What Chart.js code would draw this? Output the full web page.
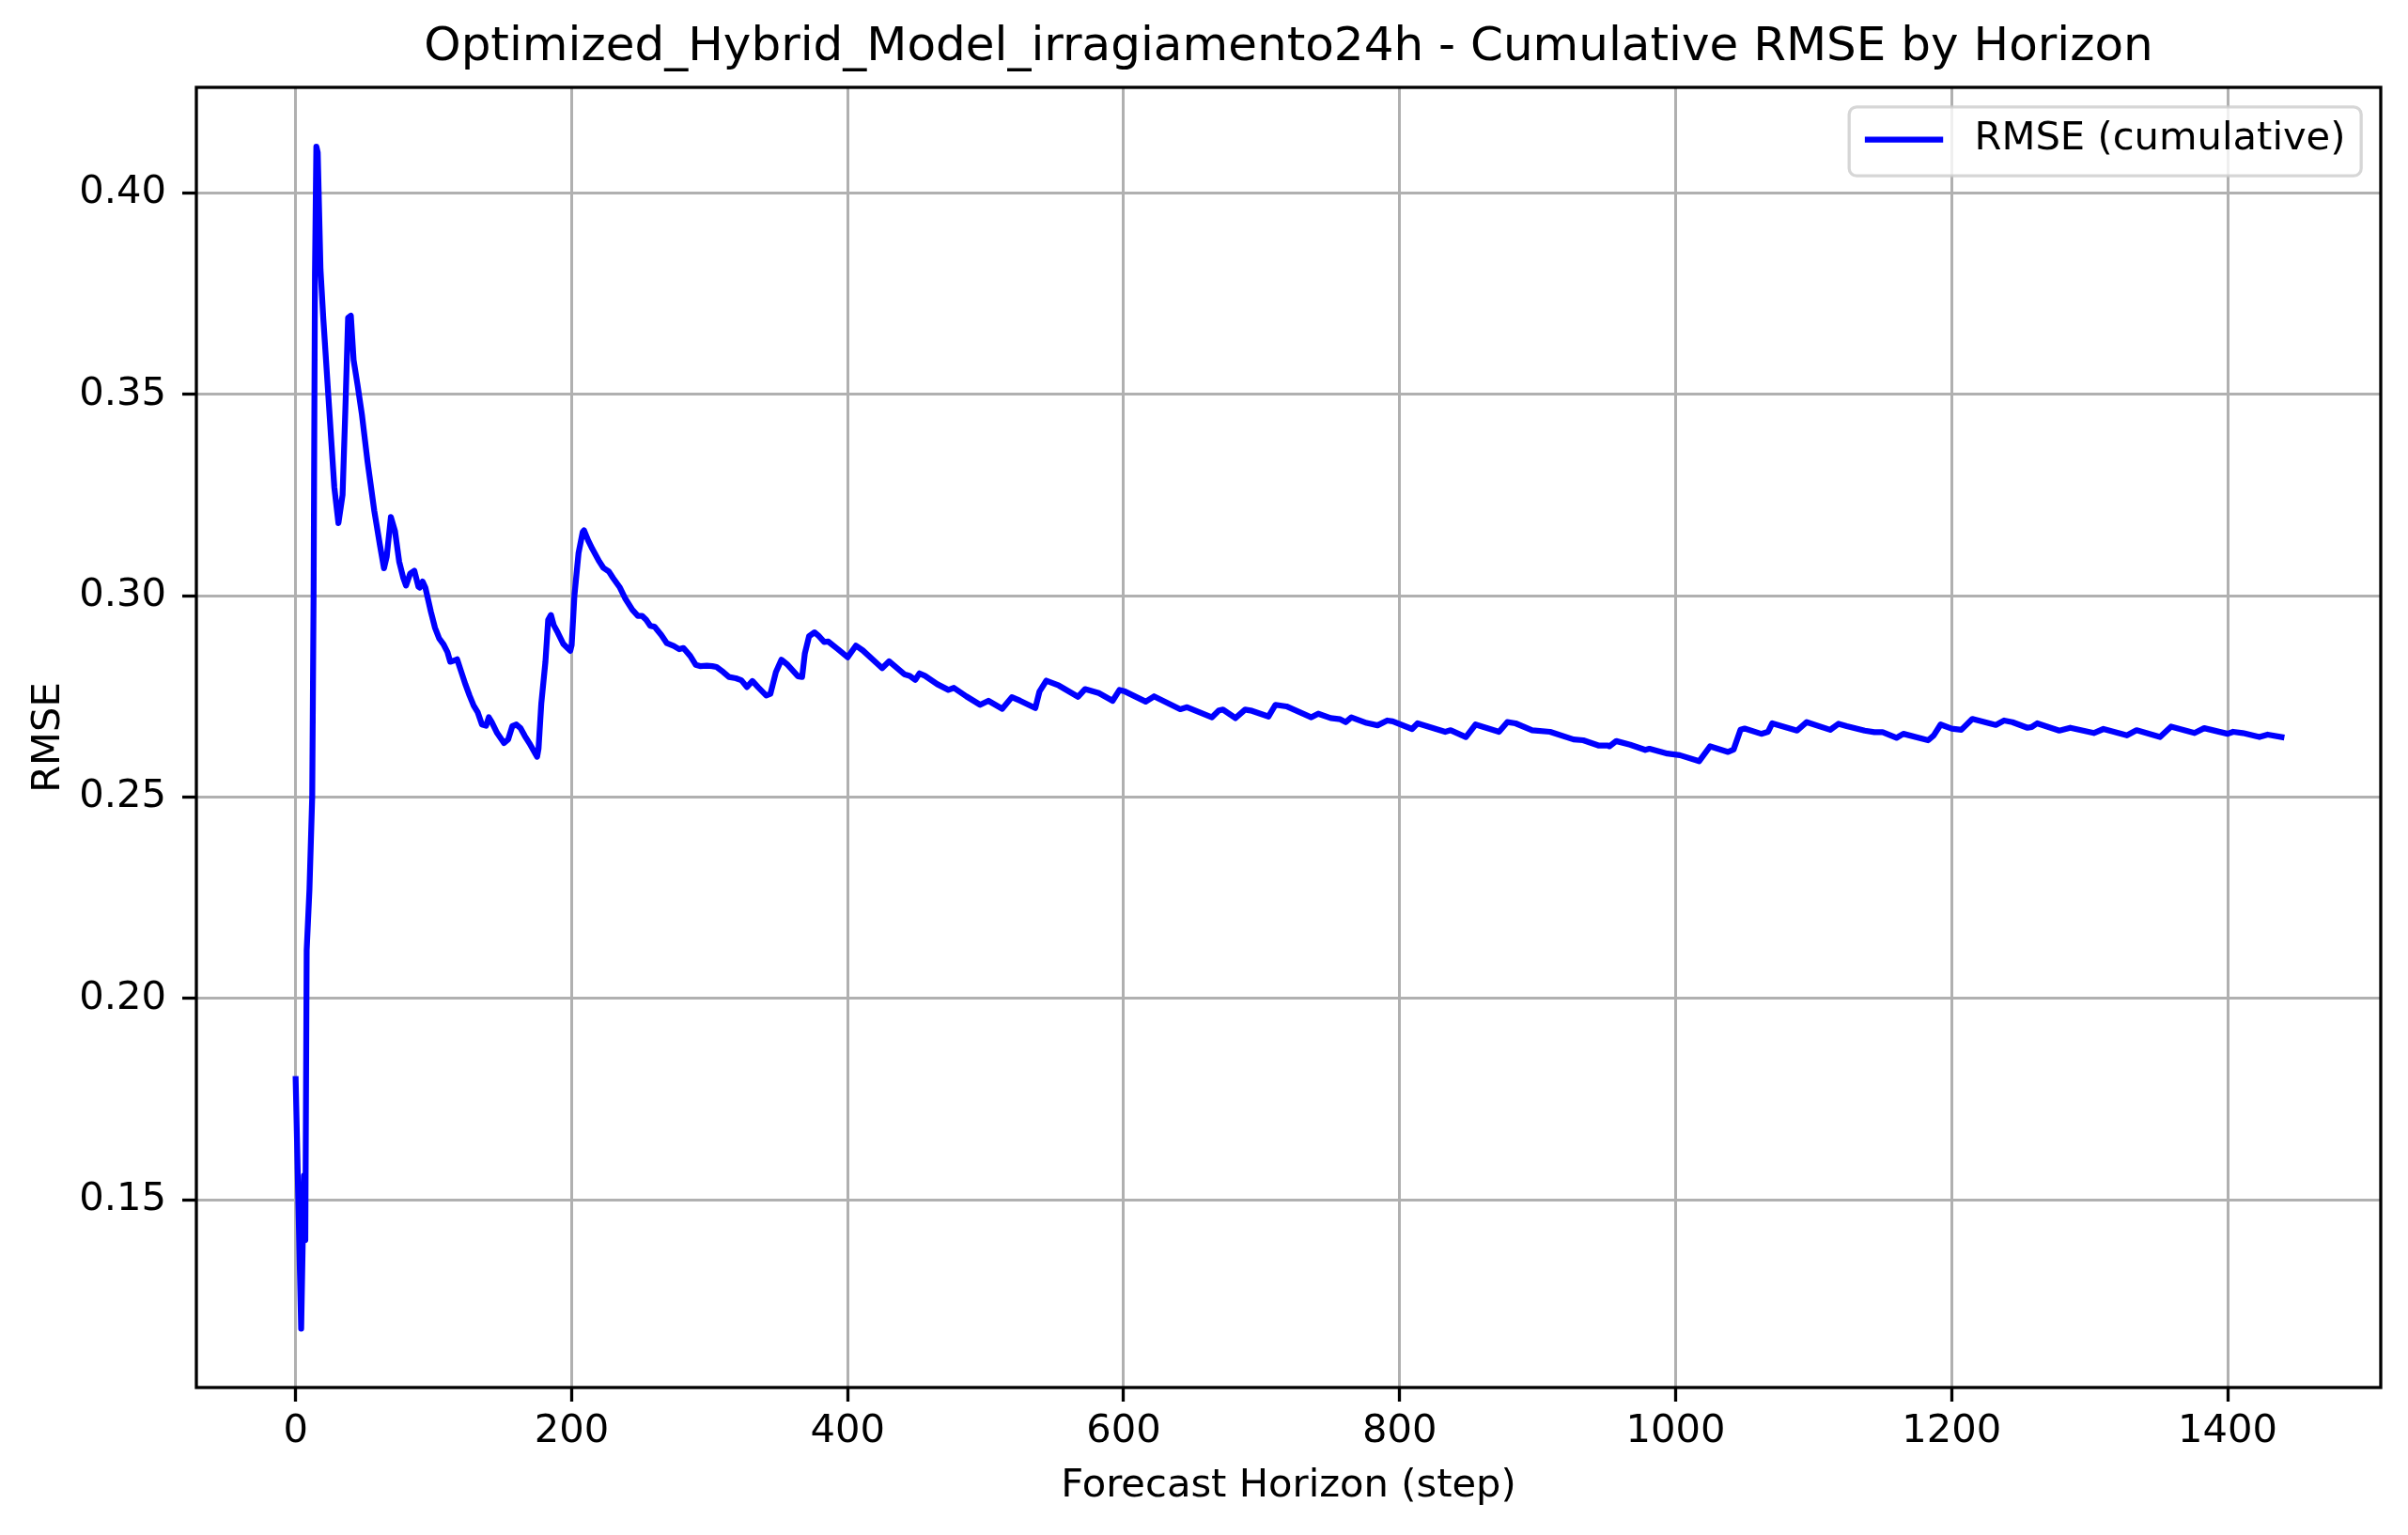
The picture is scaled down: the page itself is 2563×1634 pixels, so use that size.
<!DOCTYPE html>
<html>
<head>
<meta charset="utf-8">
<title>Cumulative RMSE by Horizon</title>
<script src="https://cdn.jsdelivr.net/npm/chart.js@4.4.1/dist/chart.umd.min.js"></script>
<style>
  html, body { margin: 0; padding: 0; background: #fff; }
  #wrap { width: 2563px; height: 1634px; }
</style>
</head>
<body>
<div id="wrap"><canvas id="myChart" width="2563" height="1634"></canvas></div>
<script>
// values (step -> cumulative RMSE)
const steps = [
  0, 4, 6, 7, 8, 10, 12, 13, 14, 15, 16, 18, 20, 24, 28, 31, 34, 36, 38, 40,
  42, 45, 48, 52, 57, 61, 64, 66, 69, 72, 75, 78, 80, 83, 86, 89, 90, 92, 94, 98,
  101, 104, 107, 110, 112, 114, 117, 120, 123, 126, 129, 132, 135, 138, 140, 142, 146, 151, 154, 157,
  160, 163, 166, 170, 175, 176, 178, 181, 183, 185, 187, 190, 194, 199, 200, 202, 205, 208, 209, 212,
  215, 220, 223, 227, 230, 235, 239, 244, 248, 251, 254, 257, 260, 265, 269, 274, 278, 281, 286, 290,
  293, 298, 302, 305, 310, 314, 319, 323, 327, 331, 335, 341, 344, 348, 352, 356, 360, 364, 367, 369,
  372, 376, 379, 383, 386, 393, 400, 406, 411, 425, 430, 441, 445, 449, 452, 456, 465, 473, 477, 486,
  496, 502, 512, 519, 525, 536, 539, 544, 553, 567, 572, 582, 592, 597, 601, 616, 622, 641, 646, 664,
  669, 672, 681, 688, 693, 705, 710, 718, 736, 741, 750, 757, 761, 765, 776, 784, 791, 795, 809, 813,
  833, 837, 848, 855, 872, 878, 884, 896, 909, 926, 933, 944, 951, 952, 957, 967, 978, 981, 994, 1003,
  1017, 1025, 1038, 1042, 1047, 1050, 1062, 1067, 1070, 1088, 1095, 1112, 1118, 1124, 1137, 1144, 1150, 1160, 1165, 1183,
  1187, 1192, 1200, 1207, 1215, 1232, 1238, 1244, 1255, 1258, 1262, 1278, 1286, 1303, 1310, 1327, 1334, 1351, 1359, 1376,
  1383, 1400, 1404, 1411, 1423, 1429, 1439
];
const rmse = [
  0.180, 0.118, 0.156, 0.140, 0.212, 0.227, 0.250, 0.300, 0.380, 0.4115, 0.410, 0.381, 0.369, 0.348, 0.327, 0.318, 0.325, 0.346, 0.369, 0.3695,
  0.3585, 0.352, 0.345, 0.3335, 0.321, 0.3127, 0.3068, 0.3097, 0.3195, 0.316, 0.3085, 0.3044, 0.3025, 0.3055, 0.3062, 0.3022, 0.302, 0.3035, 0.302, 0.296,
  0.292, 0.2894, 0.288, 0.286, 0.2836, 0.2838, 0.2842, 0.2811, 0.278, 0.2752, 0.2727, 0.271, 0.268, 0.2677, 0.2698, 0.2687, 0.2659, 0.2634, 0.2643, 0.2676,
  0.268, 0.2671, 0.2652, 0.263, 0.260, 0.262, 0.2732, 0.2836, 0.294, 0.2952, 0.2927, 0.2908, 0.288, 0.2863, 0.2877, 0.300, 0.3106, 0.3158, 0.3162, 0.3137,
  0.3116, 0.3085, 0.3069, 0.306, 0.3044, 0.302, 0.2992, 0.2965, 0.295, 0.295, 0.294, 0.2925, 0.2923, 0.2902, 0.2882, 0.2875, 0.2867, 0.287, 0.285, 0.2828,
  0.2825, 0.2826, 0.2825, 0.2823, 0.281, 0.2798, 0.2795, 0.279, 0.2773, 0.2788, 0.2773, 0.2752, 0.2756, 0.281, 0.2841, 0.283, 0.2815, 0.280, 0.2798, 0.2857,
  0.2899, 0.2909, 0.290, 0.2885, 0.2886, 0.2867, 0.2847, 0.2876, 0.2864, 0.282, 0.2837, 0.2805, 0.2801, 0.2791, 0.2807, 0.2801, 0.278, 0.2766, 0.2771, 0.275,
  0.2729, 0.2739, 0.2719, 0.2748, 0.2739, 0.2721, 0.2762, 0.2789, 0.2777, 0.2749, 0.2768, 0.2758, 0.2739, 0.2766, 0.2762, 0.2737, 0.275, 0.2718, 0.2723, 0.2698,
  0.2715, 0.2717, 0.2696, 0.2717, 0.2714, 0.270, 0.2729, 0.2725, 0.2698, 0.2707, 0.2696, 0.2693, 0.2686, 0.2698, 0.2684, 0.2678, 0.269, 0.2688, 0.2669, 0.2683,
  0.2662, 0.2666, 0.2649, 0.268, 0.2662, 0.2686, 0.2683, 0.2666, 0.2662, 0.2643, 0.2641, 0.2628, 0.2628, 0.2626, 0.2639, 0.263, 0.2617, 0.262, 0.2608, 0.2604,
  0.2589, 0.2626, 0.2612, 0.2618, 0.2667, 0.267, 0.2657, 0.2662, 0.2683, 0.2665, 0.2686, 0.2667, 0.2682, 0.2676, 0.2665, 0.2661, 0.2661, 0.2647, 0.2657, 0.2641,
  0.2653, 0.268, 0.267, 0.2667, 0.2694, 0.2679, 0.269, 0.2686, 0.2672, 0.2674, 0.2683, 0.2665, 0.2672, 0.2659, 0.2669, 0.2653, 0.2666, 0.2649, 0.2675, 0.2659,
  0.2671, 0.2657, 0.2662, 0.2659, 0.2649, 0.2655, 0.2649
];
const xTickValues = [0, 200, 400, 600, 800, 1000, 1200, 1400];
const yTickValues = [0.15, 0.20, 0.25, 0.30, 0.35, 0.40];
const seriesLabel = 'RMSE (cumulative)';
const chartTitle = 'Optimized_Hybrid_Model_irragiamento24h - Cumulative RMSE by Horizon';

const FONT = 'DejaVu Sans';
const FS = 41.67; // 10pt @ 300dpi
Chart.defaults.font.family = FONT;
Chart.defaults.color = '#000';

// black frame round the plot area (matplotlib spines)
const frame = {
  id: 'frame',
  afterDatasetsDraw(chart) {
    const { ctx, chartArea: a } = chart;
    ctx.save();
    ctx.strokeStyle = '#000';
    ctx.lineWidth = 3.3;
    ctx.strokeRect(a.left, a.top, a.right - a.left, a.bottom - a.top);
    ctx.restore();
  }
};

// legend box inside the top right corner
const innerLegend = {
  id: 'innerLegend',
  afterDraw(chart) {
    const { ctx, chartArea: a } = chart;
    const ds = chart.data.datasets[0];
    const pad = 0.4 * FS, handle = 2 * FS, gap = 0.8 * FS, axPad = 0.5 * FS;
    ctx.save();
    ctx.font = FS + 'px "' + FONT + '"';
    const tw = ctx.measureText(ds.label).width;
    const w = pad + handle + gap + tw + pad;
    const h = 2 * pad + 0.96 * FS;
    const x = a.right - axPad - w;
    const y = a.top + axPad;
    ctx.beginPath();
    if (ctx.roundRect) ctx.roundRect(x, y, w, h, 8);
    else ctx.rect(x, y, w, h);
    ctx.fillStyle = 'rgba(255,255,255,0.8)';
    ctx.fill();
    ctx.lineWidth = 3.3;
    ctx.strokeStyle = 'rgba(204,204,204,0.8)';
    ctx.stroke();
    const cy = y + h / 2 - 2;
    ctx.beginPath();
    ctx.moveTo(x + pad, cy);
    ctx.lineTo(x + pad + handle, cy);
    ctx.strokeStyle = ds.borderColor;
    ctx.lineWidth = ds.borderWidth;
    ctx.stroke();
    ctx.fillStyle = '#000';
    ctx.textBaseline = 'middle';
    ctx.textAlign = 'left';
    ctx.fillText(ds.label, x + pad + handle + gap, cy);
    ctx.restore();
  }
};

const ctx = document.getElementById('myChart').getContext('2d');
const myChart = new Chart(ctx, {
  type: 'line',
  data: {
    datasets: [{
      label: seriesLabel,
      data: steps.map((s, i) => ({ x: s, y: rmse[i] })),
      borderColor: '#0000ff',
      borderWidth: 6.25,
      borderJoinStyle: 'round',
      borderCapStyle: 'square',
      pointRadius: 0,
      tension: 0,
      fill: false
    }]
  },
  options: {
    responsive: false,
    animation: false,
    devicePixelRatio: 1,
    parsing: false,
    layout: { padding: { left: 0, right: 29, top: 0, bottom: 0 } },
    plugins: {
      legend: { display: false },
      tooltip: { enabled: false },
      title: {
        display: true,
        text: chartTitle,
        fullSize: false,
        font: { size: 50, weight: 'normal' },
        color: '#000',
        padding: { top: 21, bottom: 12 }
      }
    },
    scales: {
      x: {
        type: 'linear',
        min: -71.95,
        max: 1510.95,
        afterBuildTicks: s => { s.ticks = xTickValues.map(v => ({ value: v })); },
        afterFit: s => { s.height = 157; },
        ticks: { font: { size: FS }, padding: 7, maxRotation: 0, callback: v => String(v) },
        grid: { color: '#b0b0b0', lineWidth: 3, tickColor: '#000', tickWidth: 3.3, tickLength: 15 },
        border: { display: false },
        title: { display: true, text: 'Forecast Horizon (step)', font: { size: FS }, padding: { top: 0, bottom: 27 } }
      },
      y: {
        type: 'linear',
        min: 0.1034,
        max: 0.4262,
        afterBuildTicks: s => { s.ticks = yTickValues.map(v => ({ value: v })); },
        afterFit: s => { s.width = 209; },
        ticks: { font: { size: FS }, padding: 17, callback: v => v.toFixed(2) },
        grid: { color: '#b0b0b0', lineWidth: 3, tickColor: '#000', tickWidth: 3.3, tickLength: 15 },
        border: { display: false },
        title: { display: true, text: 'RMSE', font: { size: FS }, padding: { top: 27, bottom: 0 } }
      }
    }
  },
  plugins: [frame, innerLegend]
});
</script>
</body>
</html>
